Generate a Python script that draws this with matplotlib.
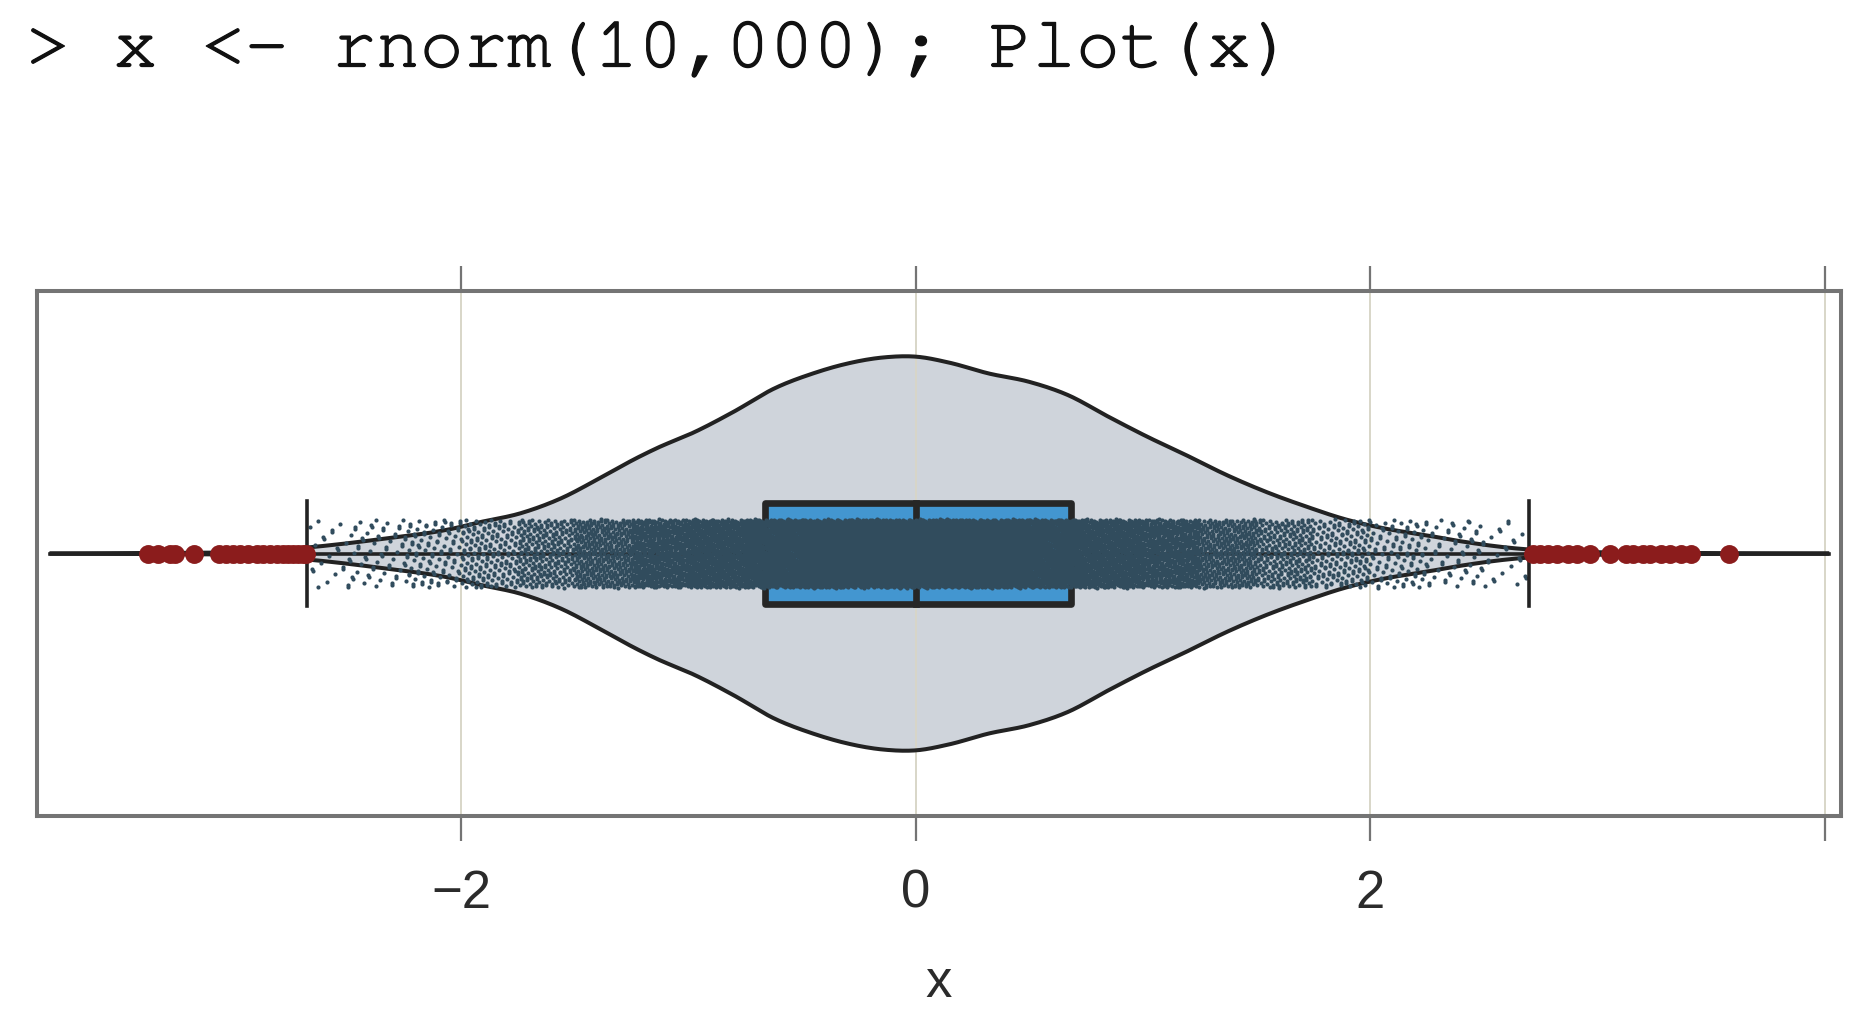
import numpy as np
import matplotlib.pyplot as plt
from matplotlib import font_manager
import matplotlib.patheffects as pe

# ---- values ----
# violin outline: x position and relative half width (1 = widest)
vio_x = [-3.81, -3.3, -2.9, -2.67, -2.36, -2.01, -1.94, -1.73, -1.56, -1.39,
         -1.23, -1.14, -0.97, -0.80, -0.62, -0.45, -0.31, -0.14, 0.0, 0.15,
         0.32, 0.50, 0.67, 0.85, 1.02, 1.19, 1.37, 1.54, 1.72, 1.89,
         2.06, 2.24, 2.41, 2.64, 2.9, 3.4, 4.02]
vio_d = [0.0, 0.003, 0.01, 0.031, 0.072, 0.133, 0.153, 0.207, 0.280, 0.382,
         0.483, 0.534, 0.618, 0.720, 0.839, 0.915, 0.962, 0.996, 1.0, 0.969,
         0.915, 0.872, 0.805, 0.694, 0.593, 0.500, 0.398, 0.314, 0.238, 0.174,
         0.128, 0.094, 0.060, 0.026, 0.01, 0.003, 0.0]

q1, med, q3 = -0.662, 0.0, 0.683
whisk_lo, whisk_hi = -2.676, 2.697

out_lo = [-3.378, -3.332, -3.281, -3.259, -3.174, -3.063, -3.034, -3.002,
          -2.972, -2.936, -2.899, -2.870, -2.840, -2.811, -2.782, -2.760,
          -2.738, -2.716, -2.696, -2.683]
out_hi = [2.718, 2.747, 2.784, 2.821, 2.872, 2.909, 2.967, 3.055, 3.128,
          3.158, 3.202, 3.231, 3.282, 3.319, 3.370, 3.414, 3.577]

# jittered points: estimated counts per bin between the whiskers
bin_edges = [-2.676, -2.5, -2.25, -2.0, -1.75, -1.5, -1.25, -1.0, -0.75, -0.5,
             -0.25, 0.0, 0.25, 0.5, 0.75, 1.0, 1.25, 1.5, 1.75, 2.0, 2.25,
             2.5, 2.697]
bin_counts = [22, 60, 105, 173, 267, 388, 530, 680, 819, 928, 987,
              987, 928, 819, 680, 530, 388, 267, 173, 105, 60, 24]

tick_vals = [-2, 0, 2, 4]
tick_labs = ['\u22122', '0', '2', '']
title_txt = '> x <- rnorm(10,000); Plot(x)'


def smooth_curve(xs, ys, n=24):
  # cubic hermite through the read points, just to round off the outline
  xs = np.asarray(xs, float)
  ys = np.asarray(ys, float)
  m = np.gradient(ys, xs)
  outX, outY = [], []
  for i in range(len(xs) - 1):
    h = xs[i+1] - xs[i]
    t = np.linspace(0, 1, n, endpoint=False)
    h00 = 2*t**3 - 3*t**2 + 1
    h10 = t**3 - 2*t**2 + t
    h01 = -2*t**3 + 3*t**2
    h11 = t**3 - t**2
    outX.append(xs[i] + t*h)
    outY.append(h00*ys[i] + h10*h*m[i] + h01*ys[i+1] + h11*h*m[i+1])
  outX.append([xs[-1]])
  outY.append([ys[-1]])
  return np.concatenate(outX), np.clip(np.concatenate(outY), 0, None)


installed = {f.name for f in font_manager.fontManager.ttflist}
mono_fams = [f for f in ['Nimbus Mono PS', 'FreeMono', 'Courier New',
                         'Liberation Mono', 'DejaVu Sans Mono']
             if f in installed] or ['DejaVu Sans Mono']

# ---- drawing ----
W, H = 1862, 1018
fig = plt.figure(figsize=(W/100, H/100), dpi=100)
ax = fig.add_axes([36.8/W, 1 - 816/H, (1840.6 - 36.8)/W, (816 - 291)/H])

vio_w = 0.75     # widest half width of violin (axis units)
box_h = 0.194
cap_h = 0.20
jit_h = 0.13

vx, vd = smooth_curve(vio_x, vio_d)
vd = vd * vio_w
ax.fill_between(vx, -vd, vd, facecolor='#CFD4DB', edgecolor='none', zorder=1)
ax.plot(vx, vd, color='#222222', lw=2.9, zorder=2, solid_capstyle='butt')
ax.plot(vx, -vd, color='#222222', lw=2.9, zorder=2, solid_capstyle='butt')
ax.plot([vio_x[0], vio_x[-1]], [0, 0], color='#222222', lw=2.6, zorder=2)

for t in tick_vals:
  ax.axvline(t, color='#D8D6C8', lw=1.4, zorder=1.5)

ax.add_patch(plt.Rectangle((q1, -box_h), q3 - q1, 2*box_h,
                           facecolor='#4396D0', edgecolor='#262626',
                           lw=4.8, zorder=3, joinstyle='round'))
ax.plot([med, med], [-box_h, box_h], color='#262626', lw=4.8, zorder=3)

# quasi-random placement of the estimated counts (R2 sequence)
cnt = np.array(bin_counts, dtype=float)
cdf = np.concatenate(([0.0], np.cumsum(cnt) / cnt.sum()))
n_pts = int(cnt.sum())
g = 1.32471795724474602596
idx = np.arange(n_pts)
u = (0.5 + idx / g) % 1.0
v = (0.5 + idx / g**2) % 1.0
px = np.interp(u, cdf, bin_edges)
py = (2*v - 1) * jit_h
ax.scatter(px, py, s=9, color='#314C5D', linewidths=0, zorder=4)

for wx in (whisk_lo, whisk_hi):
  ax.plot([wx, wx], [-cap_h, cap_h], color='#222222', lw=2.6, zorder=5)

outs = out_lo + out_hi
ax.scatter(outs, np.zeros(len(outs)), s=185, color='#8B1C1C',
           linewidths=0, zorder=6)

ax.set_xlim(-3.866, 4.07)
ax.set_ylim(-1, 1)
ax.set_yticks([])
ax.set_xticks(tick_vals)
ax.set_xticklabels(tick_labs, family='Liberation Sans')
ax.tick_params(axis='x', direction='out', length=18, width=1.6,
               color='#747474', top=True, labelsize=38, pad=20,
               labelcolor='#2B2B2B')
for sp in ax.spines.values():
  sp.set_color('#747474')
  sp.set_linewidth(2.9)

ax.set_xlabel('x', fontsize=38, family='Liberation Sans', color='#2B2B2B',
              labelpad=28)

fig.text(26/W, 1 - 51/H, title_txt, fontsize=52.5, ha='left', va='center',
         family=mono_fams, color='#111111',
         path_effects=[pe.withStroke(linewidth=0.9, foreground='#111111')])

plt.savefig('out.png', dpi=100)
